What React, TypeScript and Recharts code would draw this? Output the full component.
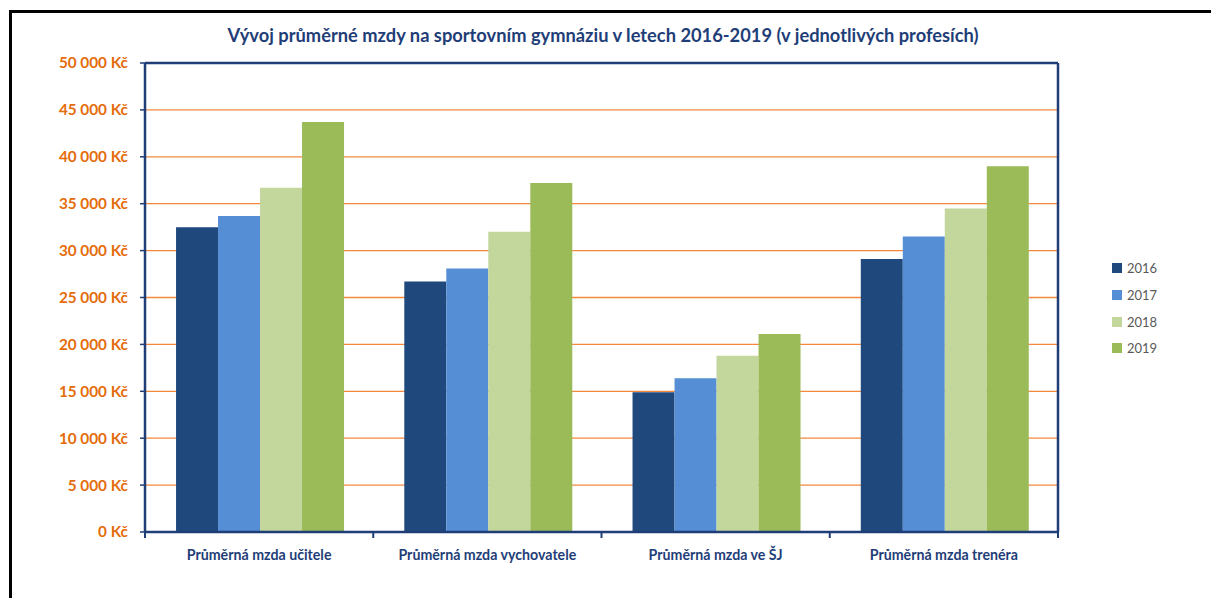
import React from 'react';
import { BarChart, Bar, XAxis, YAxis, CartesianGrid, Legend } from 'recharts';

const categories = ['Průměrná mzda učitele', 'Průměrná mzda vychovatele', 'Průměrná mzda ve ŠJ', 'Průměrná mzda trenéra'];
const years = ['2016', '2017', '2018', '2019'];
const s2016 = [32500, 26700, 14900, 29100];
const s2017 = [33700, 28100, 16400, 31500];
const s2018 = [36700, 32000, 18800, 34500];
const s2019 = [43700, 37200, 21100, 39000];
const yTicks = [0, 5000, 10000, 15000, 20000, 25000, 30000, 35000, 40000, 45000, 50000];
const title = 'Vývoj průměrné mzdy na sportovním gymnáziu v letech 2016-2019 (v jednotlivých profesích)';

const colors = ['#1F497D', '#558ED5', '#C3D69B', '#9BBB59'];
const NAVY = '#1F3E78';

const data = categories.map((c, i) => ({
  name: c,
  '2016': s2016[i],
  '2017': s2017[i],
  '2018': s2018[i],
  '2019': s2019[i],
}));

const fmt = (v: number) => {
  const s = String(v).replace(/\B(?=(\d{3})+(?!\d))/g, ' ');
  return `${s} Kč`;
};

const XTick = (props: any) => {
  const { x, y, payload, index, visibleTicksCount } = props;
  const off = payload && payload.offset ? payload.offset : 114;
  const last = index === (visibleTicksCount ? visibleTicksCount - 1 : 3);
  return (
    <g>
      <line x1={x - off} x2={x - off} y1={y} y2={y + 6} stroke={NAVY} strokeWidth={2} />
      {last && <line x1={x + off} x2={x + off} y1={y} y2={y + 6} stroke={NAVY} strokeWidth={2} />}
      <text x={x} y={y + 22} textAnchor="middle" dominantBaseline="central" fill={NAVY}
        style={{ fontFamily: 'Lato', fontWeight: 700, fontSize: 14.2 }}>
        {payload.value}
      </text>
    </g>
  );
};

const LegendContent = () => (
  <div style={{ fontFamily: 'Lato', fontSize: 13, color: '#595959' }}>
    {years.map((y, i) => (
      <div key={y} style={{ display: 'flex', alignItems: 'center', height: 26.7 }}>
        <span style={{ display: 'inline-block', width: 10, height: 10, background: colors[i], marginRight: 5 }} />
        <span>{y}</span>
      </div>
    ))}
  </div>
);

export default function App() {
  return (
    <div style={{ position: 'absolute', left: 0, top: 0, width: 1211, height: 598, overflow: 'hidden', background: '#fff' }}>
      <div style={{ position: 'absolute', left: 9, top: 10, width: 1240, height: 640, border: '3px solid #000', boxSizing: 'border-box' }} />
      <div style={{ position: 'absolute', left: 0, top: 23, width: 1206, textAlign: 'center', fontFamily: 'Lato', fontWeight: 700, fontSize: 18.3, color: NAVY, lineHeight: '24px' }}>
        {title}
      </div>
      <div style={{ position: 'absolute', left: 0, top: 0 }}>
        <BarChart width={1211} height={598} data={data} margin={{ top: 62, right: 152, bottom: 36, left: 0 }}
          barCategoryGap="13.6%" barGap={0}>
          <CartesianGrid vertical={false} stroke="#F4883C" strokeWidth={1.3} />
          <XAxis dataKey="name" height={30} axisLine={{ stroke: NAVY, strokeWidth: 2.5 }} tickLine={false}
            tickSize={0} tickMargin={0} tick={<XTick />} interval={0} />
          <XAxis xAxisId="top" dataKey="name" orientation="top" height={1} axisLine={{ stroke: NAVY, strokeWidth: 2.5 }}
            tick={false} tickLine={false} />
          <YAxis domain={[0, 50000]} ticks={yTicks} width={145} interval={0}
            axisLine={{ stroke: NAVY, strokeWidth: 2.5 }} tickLine={{ stroke: NAVY, strokeWidth: 1.5 }}
            tickSize={5} tickMargin={12} tickFormatter={fmt}
            tick={{ fill: '#E46C0A', fontFamily: 'Lato', fontWeight: 700, fontSize: 15.3 }} />
          <YAxis yAxisId="right" orientation="right" width={1} domain={[0, 50000]}
            axisLine={{ stroke: NAVY, strokeWidth: 2.5 }} tick={false} tickLine={false} />
          <Legend layout="vertical" align="center" verticalAlign="middle" content={<LegendContent />}
            wrapperStyle={{ left: 1112, top: 255, width: 80 }} />
          {years.map((y, i) => (
            <Bar key={y} dataKey={y} fill={colors[i]} isAnimationActive={false} />
          ))}
        </BarChart>
      </div>
    </div>
  );
}
